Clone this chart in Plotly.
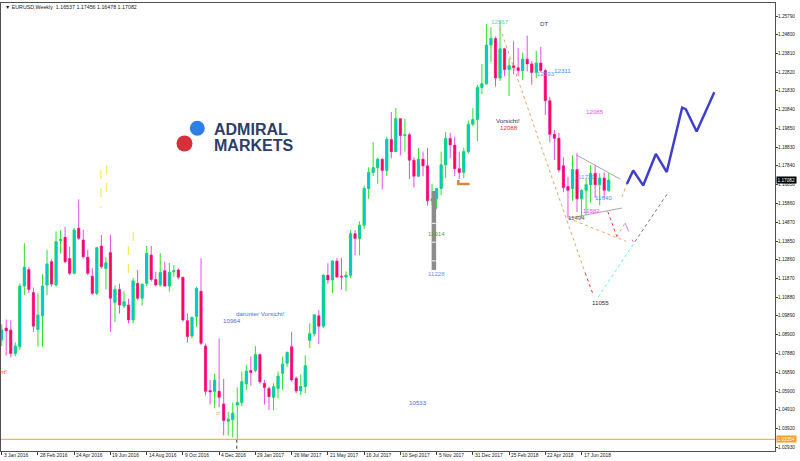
import plotly.graph_objects as go
import pandas as pd

# ---------------- data ----------------
week0 = "2016-01-03"
opens = [1.0862,1.0925,1.0915,1.0790,1.0826,1.1148,1.1235,1.1113,1.0918,1.0990,
         1.1153,1.1277,1.1153,1.1388,1.1406,1.1294,1.1215,1.1454,1.1392,1.1300,
         1.1200,1.1109,1.1360,1.1241,1.1325,1.1060,1.1130,1.1042,1.1047,1.0968,
         1.1162,1.1083,1.1162,1.1312,1.1183,1.1153,1.1229,1.1148,1.1224,1.1233,
         1.1194,1.0964,1.0883,1.0985,1.1120,1.0830,1.0594,1.0589,1.0590,1.0523,
         1.0431,1.0440,1.0517,1.0530,1.0629,1.0700,1.0700,1.0785,1.0632,1.0605,
         1.0558,1.0605,1.0685,1.0738,1.0826,1.0659,1.0592,1.0615,1.0860,1.0895,
         1.0990,1.0935,1.1205,1.1180,1.1280,1.1200,1.1195,1.1205,1.1425,1.1400,
         1.1470,1.1665,1.1750,1.1775,1.1820,1.1760,1.1925,1.1860,1.2035,1.1945,
         1.1950,1.1815,1.1730,1.1820,1.1785,1.1600,1.1610,1.1665,1.1790,1.1930,
         1.1895,1.1770,1.1750,1.1860,1.2005,1.2030,1.2200,1.2220,1.2425,1.2460,
         1.2250,1.2405,1.2295,1.2315,1.2305,1.2290,1.2350,1.2325,1.2280,1.2330,
         1.2290,1.2130,1.1952,1.1931,1.1785,1.1675,1.1665,1.1765,1.1610,1.1655,
         1.1685,1.1745,1.1685,1.1720,1.16537]
highs = [1.0945,1.0970,1.0965,1.0850,1.1162,1.1374,1.1250,1.1140,1.1110,1.1210,
         1.1340,1.1290,1.1437,1.1445,1.1462,1.1356,1.1455,1.1607,1.1445,1.1339,
         1.1242,1.1356,1.1418,1.1300,1.1418,1.1150,1.1160,1.1120,1.1080,1.1190,
         1.1232,1.1162,1.1360,1.1360,1.1224,1.1321,1.1277,1.1270,1.1259,1.1242,
         1.1197,1.1003,1.0985,1.1145,1.1295,1.0843,1.0650,1.0683,1.0870,1.0656,
         1.0480,1.0530,1.0610,1.0695,1.0730,1.0775,1.0830,1.0790,1.0650,1.0614,
         1.0632,1.0695,1.0773,1.0800,1.0906,1.0668,1.0680,1.0780,1.0950,1.0995,
         1.1020,1.1210,1.1268,1.1285,1.1296,1.1296,1.1225,1.1445,1.1445,1.1490,
         1.1680,1.1777,1.1910,1.1830,1.1825,1.1940,1.2070,1.2092,1.2035,1.2035,
         1.1960,1.1830,1.1880,1.1860,1.1880,1.1690,1.1665,1.1860,1.1965,1.1960,
         1.1940,1.1860,1.1880,1.2025,1.2090,1.2215,1.2325,1.2537,1.2520,1.2470,
         1.2555,1.2410,1.2355,1.2445,1.2410,1.2385,1.2475,1.2340,1.2395,1.2415,
         1.2300,1.2150,1.1975,1.1960,1.1830,1.1725,1.1840,1.1852,1.1660,1.1720,
         1.1790,1.1790,1.1745,1.1750,1.17456]
lows = [1.0830,1.0780,1.0770,1.0775,1.0810,1.1100,1.1110,1.0905,1.0826,1.0826,
        1.1100,1.1145,1.1145,1.1320,1.1268,1.1206,1.1210,1.1392,1.1294,1.1206,
        1.1100,1.1100,1.1240,1.1130,1.0905,1.0957,1.1003,1.1030,1.0950,1.0950,
        1.1073,1.1045,1.1148,1.1171,1.1145,1.1145,1.1145,1.1118,1.1197,1.1183,
        1.0959,1.0848,1.0870,1.0932,1.0835,1.0568,1.0520,1.0500,1.0505,1.0356,
        1.0355,1.0345,1.0332,1.0510,1.0597,1.0620,1.0690,1.0630,1.0520,1.0490,
        1.0490,1.0552,1.0597,1.0720,1.0641,1.0580,1.0570,1.0580,1.0820,1.0880,
        1.0840,1.0925,1.1160,1.1110,1.1195,1.1130,1.1120,1.1190,1.1310,1.1310,
        1.1450,1.1610,1.1730,1.1690,1.1660,1.1730,1.1825,1.1860,1.1840,1.1860,
        1.1715,1.1670,1.1730,1.1730,1.1575,1.1575,1.1555,1.1630,1.1720,1.1825,
        1.1730,1.1715,1.1720,1.1850,1.1995,1.1915,1.2165,1.2215,1.2335,1.2205,
        1.2235,1.2260,1.2155,1.2270,1.2260,1.2240,1.2285,1.2215,1.2250,1.2280,
        1.2055,1.1910,1.1816,1.1750,1.1645,1.1510,1.1600,1.1540,1.1508,1.1525,
        1.1590,1.1615,1.1575,1.1615,1.16478]
closes = [1.0915,1.0910,1.0790,1.0830,1.1148,1.1247,1.1130,1.0935,1.0994,1.1148,
          1.1265,1.1158,1.1383,1.1395,1.1277,1.1215,1.1445,1.1401,1.1303,1.1215,
          1.1109,1.1351,1.1250,1.1271,1.1083,1.1130,1.1047,1.1065,1.0968,1.1175,
          1.1083,1.1157,1.1321,1.1183,1.1153,1.1220,1.1148,1.1220,1.1229,1.1194,
          1.0968,1.0880,1.0982,1.1135,1.0844,1.0590,1.0586,1.0650,1.0558,1.0435,
          1.0442,1.0474,1.0530,1.0641,1.0697,1.0690,1.0785,1.0640,1.0610,1.0561,
          1.0614,1.0670,1.0735,1.0796,1.0650,1.0592,1.0615,1.0725,1.0895,1.0995,
          1.0935,1.1205,1.1180,1.1280,1.1195,1.1195,1.1205,1.1425,1.1400,1.1470,
          1.1665,1.1750,1.1775,1.1820,1.1760,1.1925,1.1860,1.2035,1.1945,1.1950,
          1.1815,1.1730,1.1820,1.1785,1.1600,1.1610,1.1665,1.1790,1.1930,1.1895,
          1.1770,1.1750,1.1860,1.2005,1.2030,1.2200,1.2220,1.2425,1.2460,1.2250,
          1.2405,1.2295,1.2315,1.2305,1.2290,1.2350,1.2325,1.2280,1.2330,1.2290,
          1.2130,1.1952,1.1931,1.1763,1.1670,1.1655,1.1765,1.1610,1.1655,1.1685,
          1.1745,1.1685,1.1720,1.1655,1.17082]

xtick_labels = ["3 Jan 2016", "28 Feb 2016", "24 Apr 2016", "19 Jun 2016", "14 Aug 2016",
                "9 Oct 2016", "4 Dec 2016", "29 Jan 2017", "26 Mar 2017", "21 May 2017",
                "16 Jul 2017", "10 Sep 2017", "5 Nov 2017", "31 Dec 2017", "25 Feb 2018",
                "22 Apr 2018", "17 Jun 2018"]
ytick_labels = ["1.25790", "1.24800", "1.23810", "1.22820", "1.21830", "1.20840", "1.19850",
                "1.18830", "1.17840", "1.16850", "1.15860", "1.14870", "1.13850", "1.12860",
                "1.11870", "1.10880", "1.09890", "1.08900", "1.07880", "1.06890", "1.05900",
                "1.04910", "1.03920", "1.02930"]

header_text = "\u25bc EURUSD,Weekly  1.16537 1.17456 1.16478 1.17082"
last_price = 1.17082
level_price = 1.03354

# drawn objects: week index (0 = week0) and price
tan_lines = [([110.0, 128.8], [1.2515, 1.1217]),
             ([125.1, 137.8], [1.1507, 1.1385]),
             ([135.8, 137.6], [1.1409, 1.1482]),
             ([136.9, 138.0], [1.1621, 1.1689])]
red_lines = [([128.8, 130.6], [1.1217, 1.1100]),
             ([133.8, 135.8], [1.1542, 1.1409])]
pink_lines = [([137.6, 139.4], [1.1482, 1.1381])]
cyan_line = ([131.7, 139.8], [1.1090, 1.1383])
gray_dot_line = ([139.8, 147.1], [1.1383, 1.1643])
tri_upper = ([126.9, 136.5], [1.1842, 1.1715])
tri_lower = ([125.1, 136.9], [1.1507, 1.1561])
blue_path_w = [138.0, 139.4, 141.6, 144.4, 146.8, 150.2, 151.0, 153.4, 157.3]
blue_path_p = [1.1689, 1.1760, 1.1681, 1.1848, 1.1752, 1.2093, 1.2085, 1.1967, 1.2175]
yellow_lines = [([21.9, 21.9], [1.1763, 1.1561]),
                ([23.2, 23.2], [1.1789, 1.1614]),
                ([27.95, 27.95], [1.1360, 1.1185]),
                ([29.05, 29.05], [1.1434, 1.1365])]
gray_bar = ([95.4, 95.4], [1.1652, 1.1233])
gray_bar_marks = [1.1480, 1.1380, 1.1281]
orange_mark = ([100.8, 100.8, 103.3], [1.1710, 1.1689, 1.1689])
black_dash = ([51.9, 51.9], [1.0333, 1.0270])

labels = [
    ("12567", 110.0, 1.2549, "#5ECFCF"),
    ("DT", 119.8, 1.2537, "#3A3A70"),
    ("12393", 120.2, 1.2275, "#5A9BEF"),
    ("12311", 123.9, 1.2289, "#3D8EF0"),
    ("12085", 131.0, 1.2072, "#F050F0"),
    ("Vorsicht!", 111.8, 1.2023, "#2F3464"),
    ("12088", 112.0, 1.1989, "#F03030"),
    ("11720", 129.0, 1.1727, "#5A9BEF"),
    ("11640", 132.8, 1.1618, "#3D8EF0"),
    ("11582", 130.1, 1.1546, "#F050F0"),
    ("11494", 126.9, 1.1512, "#606060"),
    ("11055", 132.1, 1.1058, "#303040"),
    ("11914", 95.9, 1.1424, "#6A9E3A"),
    ("11228", 95.9, 1.1215, "#7090E8"),
    ("darunter Vorsicht!", 57.05, 1.1003, "#4A72D8"),
    ("10964", 50.9, 1.0964, "#4A72D8"),
    ("10533", 91.9, 1.0528, "#4A72D8"),
    ("z!", 47.9, 1.0476, "#B8D040"),
]
left_cut_label = ("ht!", 1.46, 1.0694, "#F04040")

# ---------------- figure ----------------
base = pd.Timestamp(week0)
def wk(i):
    return base + pd.Timedelta(days=7 * i)
def wks(lst):
    return [wk(v) for v in lst]

dates = [wk(i) for i in range(len(opens))]
body_hi = [max(o, c) for o, c in zip(opens, closes)]
body_lo = [min(o, c) for o, c in zip(opens, closes)]

W, H = 800, 461
ML, MR, MT, MB = 1, 25, 3, 10
PW, PH = W - ML - MR, H - MT - MB
def px_x(x):
    return (x - ML) / PW
def px_y(y):
    return 1 - (y - MT) / PH

BULL_BODY, BULL_WICK = "#00C6D6", "#2BE02B"
BEAR_BODY, BEAR_WICK = "#FF0A4A", "#EC48EC"

fig = go.Figure()
# wicks + outline
fig.add_trace(go.Candlestick(
    x=dates, open=opens, high=highs, low=lows, close=closes,
    increasing=dict(line=dict(color=BULL_WICK, width=1), fillcolor=BULL_WICK),
    decreasing=dict(line=dict(color=BEAR_WICK, width=1), fillcolor=BEAR_WICK),
    whiskerwidth=0, showlegend=False, hoverinfo="skip"))
# bodies
fig.add_trace(go.Candlestick(
    x=dates, open=opens, high=body_hi, low=body_lo, close=closes,
    increasing=dict(line=dict(color=BULL_BODY, width=0), fillcolor=BULL_BODY),
    decreasing=dict(line=dict(color=BEAR_BODY, width=0), fillcolor=BEAR_BODY),
    whiskerwidth=0, showlegend=False, hoverinfo="skip"))

def add_line(w, p, color, width=1, dash="dot"):
    fig.add_trace(go.Scatter(x=wks(w), y=p, mode="lines",
                             line=dict(color=color, width=width, dash=dash),
                             showlegend=False, hoverinfo="skip"))

for w, p in yellow_lines:
    add_line(w, p, "#FFE030", 1, "dash")
add_line(*gray_bar, "#8C8C8C", 4.5, "solid")
fig.add_trace(go.Scatter(x=[wk(gray_bar[0][0])] * len(gray_bar_marks), y=gray_bar_marks,
                         mode="markers", marker=dict(symbol="line-ew", size=2.5,
                                                     line=dict(color="#FFFFFF", width=1)),
                         showlegend=False, hoverinfo="skip"))
add_line(*orange_mark, "#D8883E", 2.5, "solid")
add_line(*tri_upper, "#A8A8A8", 1, "solid")
add_line(*tri_lower, "#A8A8A8", 1, "solid")
for w, p in tan_lines:
    add_line(w, p, "#E8A468", 1, "dot")
for w, p in red_lines:
    add_line(w, p, "#F03838", 1, "dot")
for w, p in pink_lines:
    add_line(w, p, "#F070F0", 1, "dash")
add_line(*cyan_line, "#66E8F0", 1, "dot")
add_line(*gray_dot_line, "#707070", 1, "dot")
add_line(*black_dash, "#303030", 1, "dot")
add_line(blue_path_w, blue_path_p, "#3F3FCC", 2.5, "solid")

LABEL_FONT = "Liberation Sans"
anns = []
for txt, w, p, col in labels:
    anns.append(dict(x=wk(w), y=p, xref="x", yref="y", text=txt, showarrow=False,
                     font=dict(family=LABEL_FONT, size=6.2, color=col),
                     xanchor="center", yanchor="middle", borderpad=0))
txt, w, p, col = left_cut_label
anns.append(dict(x=wk(w), y=p, xref="x", yref="y", text=txt, showarrow=False,
                 font=dict(family=LABEL_FONT, size=6.2, color=col),
                 xanchor="right", yanchor="middle", borderpad=0))
# axis tick labels
for s in ytick_labels:
    anns.append(dict(x=1, y=float(s), xref="paper", yref="y", text=s, showarrow=False,
                     xanchor="left", yanchor="middle", xshift=2, borderpad=0,
                     font=dict(family=LABEL_FONT, size=4.7, color="#202020")))
for s in xtick_labels:
    anns.append(dict(x=pd.to_datetime(s, format="%d %b %Y"), y=0, xref="x", yref="paper",
                     text=s, showarrow=False, xanchor="left", yanchor="top",
                     xshift=1, yshift=-1, borderpad=0,
                     font=dict(family=LABEL_FONT, size=4.9, color="#202020")))
# header
anns.append(dict(x=px_x(4), y=px_y(6.5), xref="paper", yref="paper", text=header_text,
                 showarrow=False, xanchor="left", yanchor="middle", borderpad=0,
                 font=dict(family=LABEL_FONT, size=5.3, color="#202020")))
# price boxes
anns.append(dict(x=1, y=last_price, xref="paper", yref="y", text=f"{last_price:.5f}",
                 showarrow=False, xanchor="left", yanchor="middle", bgcolor="#000000",
                 borderpad=0.6, xshift=1,
                 font=dict(family=LABEL_FONT, size=4.7, color="#FFFFFF")))
anns.append(dict(x=1, y=level_price, xref="paper", yref="y", text=f"{level_price:.5f}",
                 showarrow=False, xanchor="left", yanchor="middle", bgcolor="#F5A020",
                 borderpad=0.6, xshift=1,
                 font=dict(family=LABEL_FONT, size=4.7, color="#FFFFFF")))
# logo text
for word, ypx in (("ADMIRAL", 129), ("MARKETS", 145.5)):
    anns.append(dict(x=px_x(213), y=px_y(ypx), xref="paper", yref="paper", text=f"<b>{word}</b>",
                     showarrow=False, xanchor="left", yanchor="middle", borderpad=0,
                     font=dict(family=LABEL_FONT, size=16, color="#2C3D66")))

shapes = [
    dict(type="line", xref="paper", yref="y", x0=0, x1=1, y0=level_price, y1=level_price,
         line=dict(color="#F5A020", width=1)),
    dict(type="circle", xref="paper", yref="paper", xsizemode="pixel", ysizemode="pixel",
         xanchor=px_x(197.3), yanchor=px_y(128.3), x0=-7.5, x1=7.5, y0=-7.5, y1=7.5,
         fillcolor="#2D7FE6", line=dict(width=0)),
    dict(type="circle", xref="paper", yref="paper", xsizemode="pixel", ysizemode="pixel",
         xanchor=px_x(184.5), yanchor=px_y(143.5), x0=-8, x1=8, y0=-8, y1=8,
         fillcolor="#D6303A", line=dict(width=0)),
]

fig.update_layout(
    width=W, height=H, margin=dict(l=ML, r=MR, t=MT, b=MB, autoexpand=False),
    paper_bgcolor="#FFFFFF", plot_bgcolor="#FFFFFF",
    annotations=anns, shapes=shapes, showlegend=False,
    xaxis=dict(range=[wk(-0.155), wk(170.7)], rangeslider=dict(visible=False),
               tickvals=pd.to_datetime(xtick_labels, format="%d %b %Y"),
               showticklabels=False, automargin=False,
               ticks="outside", ticklen=3, tickcolor="#404040",
               showgrid=False, zeroline=False, showline=True, linecolor="#505050",
               linewidth=1, mirror=True),
    yaxis=dict(range=[1.02734, 1.26479], side="right",
               tickvals=[float(s) for s in ytick_labels],
               showticklabels=False, automargin=False,
               ticks="outside", ticklen=2, tickcolor="#404040",
               showgrid=False, zeroline=False, showline=True, linecolor="#505050",
               linewidth=1, mirror=True),
)

fig.write_html("out.html", config={"displayModeBar": False, "staticPlot": True},
               post_script="document.body.style.margin='0px';document.body.style.overflow='hidden';")
